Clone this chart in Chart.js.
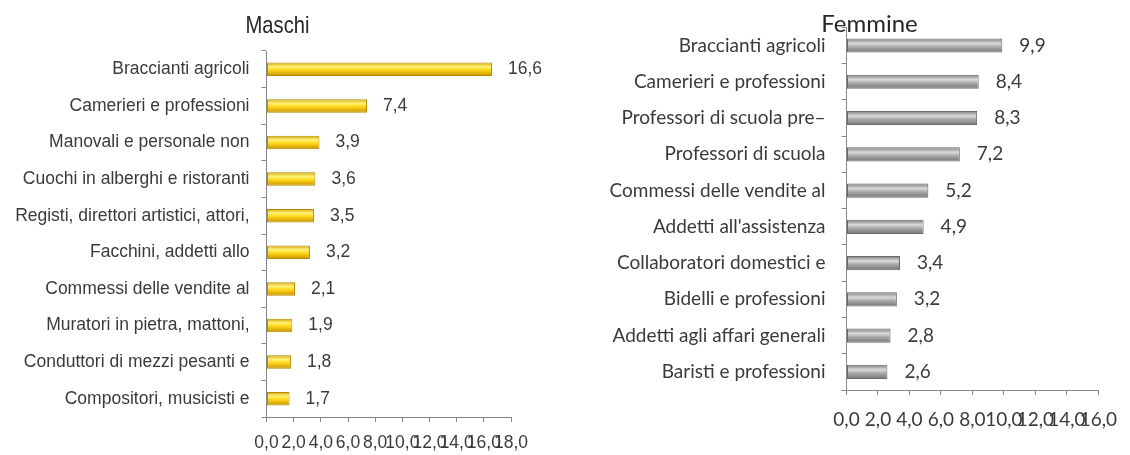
<!DOCTYPE html>
<html>
<head>
<meta charset="utf-8">
<script src="https://cdn.jsdelivr.net/npm/chart.js@4.4.0/dist/chart.umd.min.js"></script>
<style>
  html, body { margin: 0; padding: 0; background: #fff; }
  #wrap { position: relative; width: 1130px; height: 455px; overflow: hidden; }
  canvas { position: absolute; top: 0; }
  #maschi { left: 0; }
  #femmine { left: 565px; }
</style>
</head>
<body>
<div id="wrap">
  <canvas id="maschi" width="565" height="455"></canvas>
  <canvas id="femmine" width="565" height="455"></canvas>
</div>
<script>
const maschiLabels = [
  'Braccianti agricoli',
  'Camerieri e professioni',
  'Manovali e personale non',
  'Cuochi in alberghi e ristoranti',
  'Registi, direttori artistici, attori,',
  'Facchini, addetti allo',
  'Commessi delle vendite al',
  'Muratori in pietra, mattoni,',
  'Conduttori di mezzi pesanti e',
  'Compositori, musicisti e',
];
const maschiValues = [16.6, 7.4, 3.9, 3.6, 3.5, 3.2, 2.1, 1.9, 1.8, 1.7];

const femmineLabels = [
  'Braccianti agricoli',
  'Camerieri e professioni',
  'Professori di scuola pre\u2013',
  'Professori di scuola',
  'Commessi delle vendite al',
  "Addetti all'assistenza",
  'Collaboratori domestici e',
  'Bidelli e professioni',
  'Addetti agli affari generali',
  'Baristi e professioni',
];
const femmineValues = [9.9, 8.4, 8.3, 7.2, 5.2, 4.9, 3.4, 3.2, 2.8, 2.6];

const maschiAxisMax = 18;
const femmineAxisMax = 16;
const axisStep = 2;

const fmt = (v) => Number(v).toFixed(1).replace('.', ',');

const panelTitle = {
  id: 'panelTitle',
  afterDraw(chart, args, opts) {
    const { ctx } = chart;
    ctx.save();
    ctx.font = opts.font;
    ctx.fillStyle = opts.color;
    ctx.textAlign = 'center';
    ctx.textBaseline = 'middle';
    // squeeze horizontally when a narrow face is wanted
    ctx.translate(opts.x, opts.y);
    ctx.scale(opts.scaleX || 1, 1);
    ctx.fillText(opts.text, 0, 0);
    ctx.restore();
  },
};

const valueLabels = {
  id: 'valueLabels',
  afterDatasetsDraw(chart, args, opts) {
    const { ctx } = chart;
    const values = chart.data.datasets[0].data;
    ctx.save();
    ctx.font = opts.font;
    ctx.fillStyle = opts.color;
    ctx.textAlign = 'left';
    ctx.textBaseline = 'middle';
    chart.getDatasetMeta(0).data.forEach((bar, i) => {
      ctx.fillText(fmt(values[i]), bar.x + opts.offset, bar.y);
    });
    ctx.restore();
  },
};

// vertical gradient across each bar's own thickness
function barFill(stops, barPct) {
  return (c) => {
    const chart = c.chart;
    if (c.type !== 'data' || !chart.chartArea) return stops[1][1];
    const y = chart.scales.y;
    const n = chart.data.labels.length;
    const h = (y.bottom - y.top) / n * barPct;
    const yc = y.getPixelForValue(c.dataIndex);
    const g = chart.ctx.createLinearGradient(0, yc - h / 2, 0, yc + h / 2);
    stops.forEach(([o, col]) => g.addColorStop(o, col));
    return g;
  };
}

function makeChart(el, cfg) {
  return new Chart(document.getElementById(el), {
    type: 'bar',
    data: {
      labels: cfg.labels,
      datasets: [{
        data: cfg.values,
        backgroundColor: barFill(cfg.stops, cfg.barPct),
        borderColor: cfg.border,
        borderWidth: 1,
        borderSkipped: false,
        barPercentage: cfg.barPct,
        categoryPercentage: 1,
      }],
    },
    options: {
      indexAxis: 'y',
      responsive: false,
      animation: false,
      devicePixelRatio: 1,
      layout: { padding: { left: 0, right: cfg.padRight, top: cfg.top, bottom: 0 } },
      scales: {
        x: {
          min: 0,
          max: cfg.max,
          afterFit: (s) => { s.height = cfg.xHeight; },
          ticks: {
            stepSize: axisStep,
            autoSkip: false,
            maxRotation: 0,
            minRotation: 0,
            padding: cfg.xPad,
            color: cfg.text,
            font: { family: cfg.family, size: cfg.size },
            callback: (v) => fmt(v),
          },
          grid: { drawOnChartArea: false, tickLength: 5, color: cfg.axis },
          border: { display: true, color: cfg.axis, width: 1 },
        },
        y: {
          afterFit: (s) => { s.width = cfg.left; },
          ticks: {
            autoSkip: false,
            padding: cfg.yPad,
            color: cfg.text,
            font: { family: cfg.family, size: cfg.size },
          },
          grid: { drawOnChartArea: false, tickLength: 5, color: cfg.axis, offset: true },
          border: { display: true, color: cfg.axis, width: 1 },
        },
      },
      plugins: {
        legend: { display: false },
        tooltip: { enabled: false },
        panelTitle: cfg.title,
        valueLabels: { font: cfg.size + 'px "' + cfg.family + '"', color: cfg.text, offset: cfg.labelOffset },
      },
    },
    plugins: [panelTitle, valueLabels],
  });
}

makeChart('maschi', {
  labels: maschiLabels,
  values: maschiValues,
  max: maschiAxisMax,
  family: 'Liberation Sans',
  size: 17.5,
  text: '#3a3a3a',
  axis: '#868686',
  stops: [[0, '#d4a000'], [0.3, '#fff27a'], [0.55, '#ffd81a'], [1, '#c89000']],
  border: '#b88c00',
  barPct: 0.37,
  left: 266.5,
  padRight: 54,
  top: 51,
  xHeight: 38,
  xPad: 11,
  yPad: 12,
  labelOffset: 16,
  title: { text: 'Maschi', x: 277.5, y: 26, font: '24px "Liberation Sans"', scaleX: 0.84, color: '#262626' },
});

makeChart('femmine', {
  labels: femmineLabels,
  values: femmineValues,
  max: femmineAxisMax,
  family: 'Lato',
  size: 19,
  text: '#3a3a3a',
  axis: '#898989',
  stops: [[0, '#7c7c7c'], [0.35, '#dadada'], [0.6, '#a8a8a8'], [1, '#767676']],
  border: '#6a6a6a',
  barPct: 0.39,
  left: 281.5,
  padRight: 23,
  top: 25,
  xHeight: 65,
  xPad: 13,
  yPad: 16,
  labelOffset: 17,
  title: { text: 'Femmine', x: 304.5, y: 24.5, font: '24px "Lato"', color: '#262626' },
});
</script>
</body>
</html>
